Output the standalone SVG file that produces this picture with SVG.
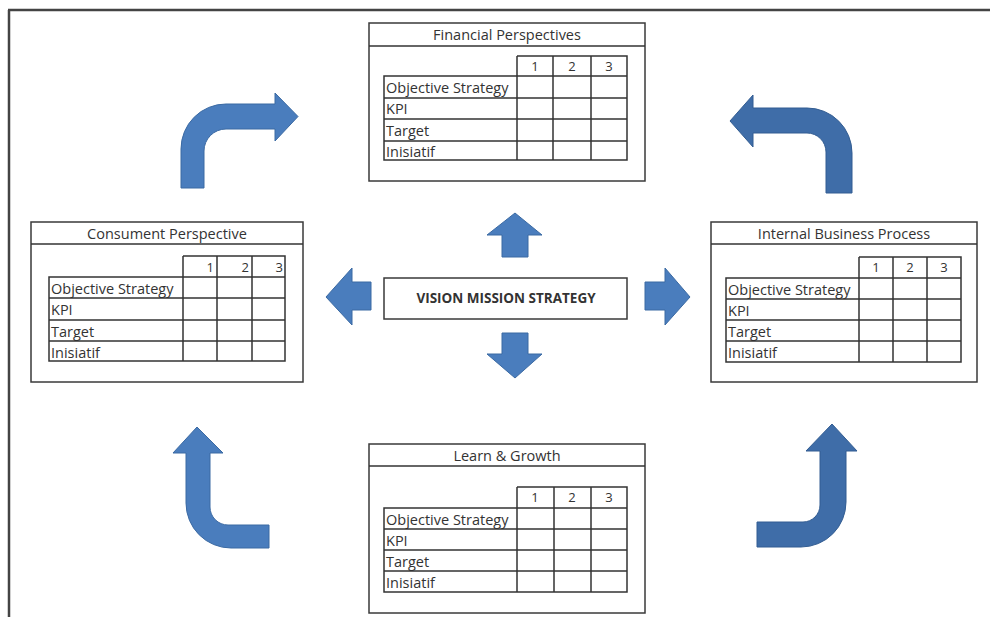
<svg xmlns="http://www.w3.org/2000/svg" width="990" height="617" viewBox="0 0 990 617">
<style>
.box{fill:#fff;stroke:#3a3a3a;stroke-width:1.5}
.ln{stroke:#333;stroke-width:1.5;fill:none}
.tt{font-family:"Open Sans","Liberation Sans",sans-serif;font-size:14.5px;fill:#333;text-anchor:middle}
.lb{font-family:"Open Sans","Liberation Sans",sans-serif;font-size:14.5px;fill:#333}
.nm{font-family:"Open Sans","Liberation Sans",sans-serif;font-size:13px;fill:#333;text-anchor:middle}
.nr{font-family:"Open Sans","Liberation Sans",sans-serif;font-size:13px;fill:#333;text-anchor:end}
.ctr{font-family:"Open Sans","Liberation Sans",sans-serif;font-size:13.5px;font-weight:bold;fill:#333;text-anchor:middle}
.arL{fill:#4a7dbd;stroke:#3b6aa3;stroke-width:1}
.arR{fill:#3f6da8;stroke:#335d92;stroke-width:1}
</style>
<rect width="990" height="617" fill="#fff"/>
<g id="frame">
<line x1="8" y1="10" x2="990" y2="10" stroke="#444" stroke-width="2.5"/>
<line x1="9" y1="10" x2="9" y2="617" stroke="#444" stroke-width="2.5"/>
</g>
<g id="financial">
<rect class="box" x="369" y="23" width="276" height="158"/>
<line class="ln" x1="369" y1="46" x2="645" y2="46"/>
<text class="tt" x="507" y="40">Financial Perspectives</text>
<path class="ln" d="M517,56 H627 V160 H384 V76 H627 M384,98 H627 M384,119 H627 M384,141 H627 M517,56 V160 M553,56 V160 M591,56 V160"/>
<text class="nm" x="535" y="71">1</text><text class="nm" x="572" y="71">2</text><text class="nm" x="609" y="71">3</text>
<text class="lb" x="386" y="93">Objective Strategy</text>
<text class="lb" x="386" y="114">KPI</text>
<text class="lb" x="386" y="136">Target</text>
<text class="lb" x="386" y="157">Inisiatif</text>
</g>
<g id="consument">
<rect class="box" x="31" y="222" width="272" height="160"/>
<line class="ln" x1="31" y1="244" x2="303" y2="244"/>
<text class="tt" x="167" y="239">Consument Perspective</text>
<path class="ln" d="M183,256 H285 V361 H49 V277 H285 M49,298 H285 M49,320 H285 M49,341 H285 M183,256 V361 M217,256 V361 M252,256 V361"/>
<text class="nr" x="214" y="272">1</text><text class="nr" x="249" y="272">2</text><text class="nr" x="283" y="272">3</text>
<text class="lb" x="51" y="294">Objective Strategy</text>
<text class="lb" x="51" y="315">KPI</text>
<text class="lb" x="51" y="337">Target</text>
<text class="lb" x="51" y="358">Inisiatif</text>
</g>
<g id="internal">
<rect class="box" x="711" y="222" width="266" height="160"/>
<line class="ln" x1="711" y1="244" x2="977" y2="244"/>
<text class="tt" x="844" y="239">Internal Business Process</text>
<path class="ln" d="M859,257 H961 V362 H726 V278 H961 M726,299 H961 M726,320 H961 M726,341 H961 M859,257 V362 M893,257 V362 M927,257 V362"/>
<text class="nm" x="876" y="272">1</text><text class="nm" x="910" y="272">2</text><text class="nm" x="944" y="272">3</text>
<text class="lb" x="728" y="295">Objective Strategy</text>
<text class="lb" x="728" y="316">KPI</text>
<text class="lb" x="728" y="337">Target</text>
<text class="lb" x="728" y="358">Inisiatif</text>
</g>
<g id="learn">
<rect class="box" x="369" y="444" width="276" height="169"/>
<line class="ln" x1="369" y1="466" x2="645" y2="466"/>
<text class="tt" x="507" y="461">Learn &amp; Growth</text>
<path class="ln" d="M517,487 H627 V592 H384 V508 H627 M384,529 H627 M384,550 H627 M384,571 H627 M517,487 V592 M554,487 V592 M591,487 V592"/>
<text class="nm" x="535" y="502">1</text><text class="nm" x="572" y="502">2</text><text class="nm" x="609" y="502">3</text>
<text class="lb" x="386" y="525">Objective Strategy</text>
<text class="lb" x="386" y="546">KPI</text>
<text class="lb" x="386" y="567">Target</text>
<text class="lb" x="386" y="588">Inisiatif</text>
</g>
<g id="vision">
<rect class="box" x="384" y="278" width="243" height="41"/>
<text class="ctr" x="506" y="303">VISION MISSION STRATEGY</text>
</g>
<g id="connectors">
<path class="arL" d="M502,257 V235 H487 L515,213 L542,235 H528 V257 Z"/>
<path class="arL" d="M502,333 V354 H487 L515,378 L542,354 H528 V333 Z"/>
<path class="arL" d="M371,282 H352 V268 L326,297 L352,325 V310 H371 Z"/>
<path class="arL" d="M645,282 H665 V268 L690,297 L665,325 V310 H645 Z"/>
<path class="arL" d="M181,188 V149 A45,45 0 0 1 226,104 H275 V93 L298,116.5 L275,141 V129 H226 A22,22 0 0 0 204,151 V188 Z"/>
<path class="arR" d="M852,193 V153 A45,45 0 0 0 807,108 H753 V95 L730,121 L753,147 V133 H807 A19,19 0 0 1 826,152 V193 Z"/>
<path class="arL" d="M269,525 H228 A18,18 0 0 1 210,507 V453 H223 L197,427 L173,453 H186 V503 A45,45 0 0 0 231,548 H269 Z"/>
<path class="arR" d="M757,522 H803 A17,17 0 0 0 820,505 V451 H806 L832,424 L857,451 H846 V502 A45,45 0 0 1 801,547 H757 Z"/>
</g>
</svg>
